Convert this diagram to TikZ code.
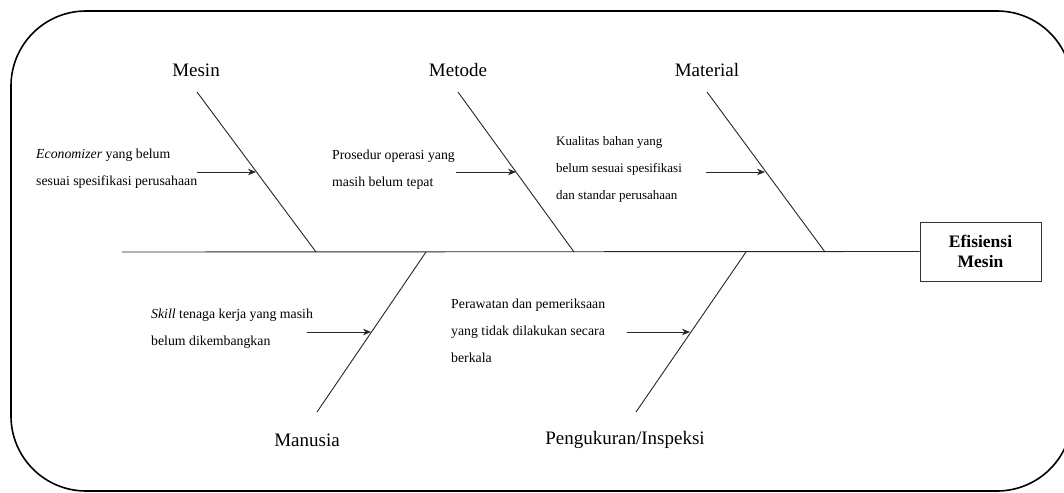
\documentclass[tikz,border=0pt]{standalone}
\usepackage{fontspec}
\setmainfont{Liberation Serif}
\usetikzlibrary{arrows.meta}
\begin{document}
\begin{tikzpicture}[x=1pt,y=-1pt,
  bone/.style={line width=0.9pt,draw=black!85},
  cause/.style={anchor=west,align=left,font=\fontsize{13.8}{27}\selectfont,inner sep=0pt},
  catlabel/.style={font=\fontsize{19}{22}\selectfont,inner sep=0pt},
  causearrow/.style={line width=0.8pt,draw=black!85,-{Stealth[length=8pt,width=6.5pt]}},
  headbox/.style={draw=black!80,line width=1pt,minimum width=121pt,minimum height=59pt,align=center,font=\fontsize{17.5}{20}\selectfont\bfseries,inner sep=0pt}
]
\useasboundingbox (0,0) rectangle (1064,492);
\begin{scope}
\clip (0,0) rectangle (1064,492);
\draw[line width=1.6pt,rounded corners=75pt] (11,11) rectangle (1072,491);
\end{scope}

% head
\node[headbox] (head) at (980.5,251.5) {Efisiensi\\Mesin};
\coordinate (tail) at (122,252);
\draw[bone] (tail) -- (head.west);

% bones
\coordinate (mesinTop) at (197,92);   \coordinate (mesinBot) at (316,252);
\coordinate (metodeTop) at (458,92);  \coordinate (metodeBot) at (574,252);
\coordinate (materialTop) at (707,92);\coordinate (materialBot) at (825,252);
\coordinate (manTop) at (426,252);    \coordinate (manBot) at (317,412);
\coordinate (pengTop) at (746,252);   \coordinate (pengBot) at (636,412);
\draw[bone] (mesinTop) -- (mesinBot);
\draw[bone] (metodeTop) -- (metodeBot);
\draw[bone] (materialTop) -- (materialBot);
\draw[bone] (manTop) -- (manBot);
\draw[bone] (pengTop) -- (pengBot);

% category labels
\node[catlabel] (lMesin) at (196,70) {Mesin};
\node[catlabel] (lMetode) at (458,70) {Metode};
\node[catlabel] (lMaterial) at (707,70) {Material};
\node[catlabel] (lManusia) at (307,440) {Manusia};
\node[catlabel] (lPeng) at (625,440) {Pengukuran/Inspeksi};

% causes
\node[cause] (cMesin) at (36,169) {\textit{Economizer} yang belum\\sesuai spesifikasi perusahaan};
\node[cause] (cMetode) at (332,169.5) {Prosedur operasi yang\\masih belum tepat};
\node[cause,font=\fontsize{13}{27}\selectfont] (cMaterial) at (556,169) {Kualitas bahan yang\\belum sesuai spesifikasi\\dan standar perusahaan};
\node[cause] (cManusia) at (151,329) {\textit{Skill} tenaga kerja yang masih\\belum dikembangkan};
\node[cause] (cPeng) at (451,330.5) {Perawatan dan pemeriksaan\\yang tidak dilakukan secara\\berkala};

% cause arrows
\coordinate (aMesinS) at (197,172);    \coordinate (aMesinE) at (256,172);
\coordinate (aMetodeS) at (456,172);   \coordinate (aMetodeE) at (516,172);
\coordinate (aMaterialS) at (706,172); \coordinate (aMaterialE) at (765,172);
\coordinate (aManS) at (307,332);      \coordinate (aManE) at (371,332);
\coordinate (aPengS) at (627,332);     \coordinate (aPengE) at (690,332);
\draw[causearrow] (aMesinS) -- (aMesinE);
\draw[causearrow] (aMetodeS) -- (aMetodeE);
\draw[causearrow] (aMaterialS) -- (aMaterialE);
\draw[causearrow] (aManS) -- (aManE);
\draw[causearrow] (aPengS) -- (aPengE);
\end{tikzpicture}
\end{document}
